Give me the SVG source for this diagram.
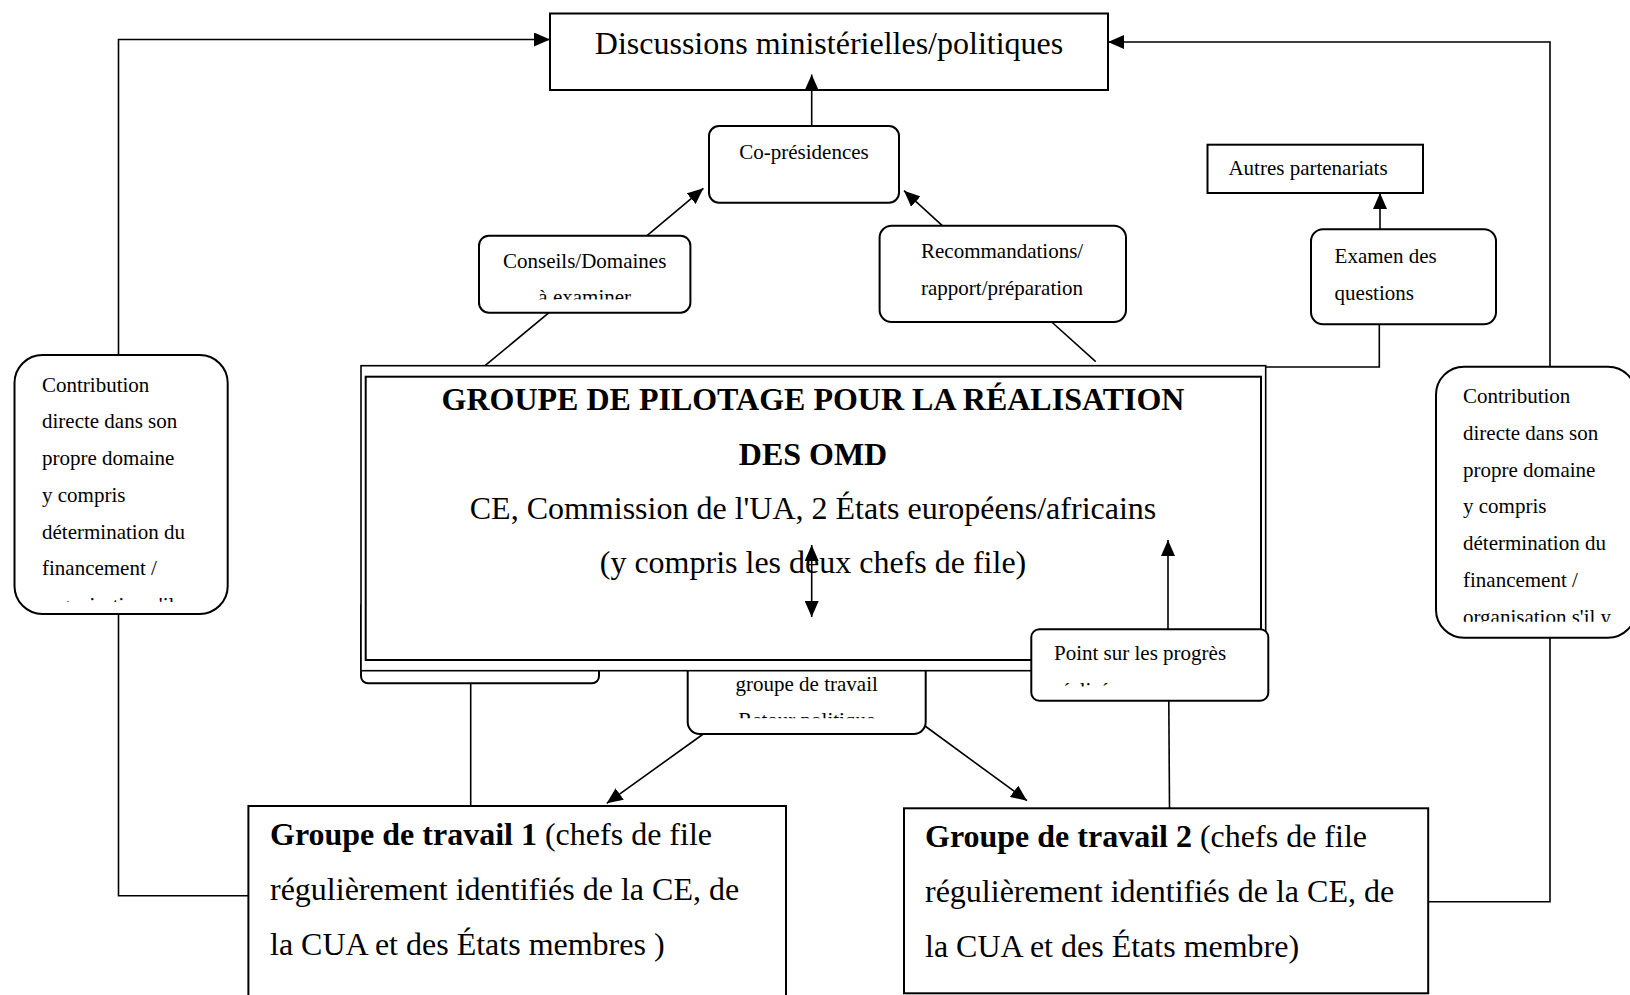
<svg xmlns="http://www.w3.org/2000/svg" width="1630" height="995" viewBox="0 0 1630 995">
<style>
.box{fill:#fff;stroke:#000;stroke-width:2}
.ln{fill:none;stroke:#000;stroke-width:1.6}
.t{font-family:"Liberation Serif","Times New Roman",serif;fill:#000}
.s{font-size:21px}
.l{font-size:32px}
.b{font-weight:bold}
.c{text-anchor:middle}
</style>
<defs>
<marker id="ah" markerUnits="userSpaceOnUse" markerWidth="16" markerHeight="14" refX="16" refY="7" orient="auto-start-reverse">
<path d="M0,0 L16,7 L0,14 z" fill="#000"/>
</marker>
<clipPath id="cpConseils"><rect x="479" y="236" width="211" height="63.5"/></clipPath>
<clipPath id="cpLC"><rect x="15" y="356" width="212" height="246"/></clipPath>
<clipPath id="cpRC"><rect x="1437" y="367" width="193" height="254.7"/></clipPath>
<clipPath id="cpPoint"><rect x="1032" y="630" width="236" height="56.5"/></clipPath>
<clipPath id="cpGdt"><rect x="688" y="671" width="237" height="47.3"/></clipPath>
</defs>
<rect width="1630" height="995" fill="#fff"/>

<g id="discussions">
<rect class="box" x="550" y="13.5" width="558" height="76.5"/>
<text class="t l c" x="829" y="53.5">Discussions ministérielles/politiques</text>
</g>

<g id="copresidences">
<rect class="box" x="709" y="126" width="190" height="76.7" rx="10"/>
<text class="t s c" x="804" y="159.3">Co-présidences</text>
</g>

<g id="conseils">
<rect class="box" x="479" y="235.7" width="211.4" height="77" rx="10"/>
<g clip-path="url(#cpConseils)">
<text class="t s c" x="584.7" y="268.3">Conseils/Domaines</text>
<text class="t s c" x="584.7" y="304">à examiner</text>
</g>
</g>

<g id="recommandations">
<rect class="box" x="879.6" y="225.7" width="246.4" height="96.3" rx="12"/>
<text class="t s" x="921" y="258.3">Recommandations/</text>
<text class="t s" x="921" y="295">rapport/préparation</text>
</g>

<g id="autres">
<rect class="box" x="1207.5" y="144.7" width="215.5" height="48.3"/>
<text class="t s" x="1228.4" y="175">Autres partenariats</text>
</g>

<g id="examen">
<rect class="box" x="1311" y="229.3" width="185" height="95" rx="12"/>
<text class="t s" x="1334.6" y="263.3">Examen des</text>
<text class="t s" x="1334.6" y="300">questions</text>
</g>

<g id="contribution-gauche">
<rect class="box" x="14.5" y="355" width="213.2" height="259" rx="28"/>
<g clip-path="url(#cpLC)">
<text class="t s" x="42" y="391.7">Contribution</text>
<text class="t s" x="42" y="428.4">directe dans son</text>
<text class="t s" x="42" y="465.1">propre domaine</text>
<text class="t s" x="42" y="501.8">y compris</text>
<text class="t s" x="42" y="538.5">détermination du</text>
<text class="t s" x="42" y="575.2">financement /</text>
<text class="t s" x="42" y="611.9">organisation s'il y</text>
</g>
</g>

<g id="contribution-droite">
<rect class="box" x="1436" y="366.7" width="200" height="271" rx="28"/>
<g clip-path="url(#cpRC)">
<text class="t s" x="1463" y="403.3">Contribution</text>
<text class="t s" x="1463" y="440">directe dans son</text>
<text class="t s" x="1463" y="476.7">propre domaine</text>
<text class="t s" x="1463" y="513.4">y compris</text>
<text class="t s" x="1463" y="550.1">détermination du</text>
<text class="t s" x="1463" y="586.8">financement /</text>
<text class="t s" x="1463" y="623.5">organisation s'il y</text>
</g>
</g>

<g id="boite-cachee">
<rect class="box" x="361" y="600" width="238" height="83.3" rx="7"/>
</g>

<g id="groupe-de-travail-retour">
<rect class="box" x="687.7" y="600" width="238" height="134" rx="12"/>
<g clip-path="url(#cpGdt)">
<text class="t s c" x="806.7" y="690.7">groupe de travail</text>
<text class="t s c" x="806.7" y="726.7">Retour politique</text>
</g>
</g>

<g id="groupe-pilotage">
<rect x="361" y="365.7" width="904.7" height="305" fill="#fff" stroke="#000" stroke-width="1.6"/>
<rect x="365.7" y="376.7" width="895.3" height="283.3" fill="none" stroke="#000" stroke-width="2"/>
<text class="t l b c" x="813" y="410">GROUPE DE PILOTAGE POUR LA RÉALISATION</text>
<text class="t l b c" x="813" y="465">DES OMD</text>
<text class="t l c" x="813" y="519.3">CE, Commission de l'UA, 2 États européens/africains</text>
<text class="t l c" x="813" y="573.3">(y compris les deux chefs de file)</text>
</g>

<g id="point-progres">
<rect class="box" x="1031.3" y="629.3" width="237" height="71.4" rx="8"/>
<g clip-path="url(#cpPoint)">
<text class="t s" x="1054" y="660">Point sur les progrès</text>
<text class="t s" x="1054" y="696.7">réalisés</text>
</g>
</g>

<g id="groupe-travail-1">
<rect class="box" x="248.4" y="806" width="537.6" height="200"/>
<text class="t l" x="270" y="845"><tspan class="b">Groupe de travail 1</tspan> (chefs de file</text>
<text class="t l" x="270" y="900">régulièrement identifiés de la CE, de</text>
<text class="t l" x="270" y="955">la CUA et des États membres )</text>
</g>

<g id="groupe-travail-2">
<rect class="box" x="904" y="808.3" width="524.2" height="185"/>
<text class="t l" x="925" y="846.5"><tspan class="b">Groupe de travail 2</tspan> (chefs de file</text>
<text class="t l" x="925" y="901.5">régulièrement identifiés de la CE, de</text>
<text class="t l" x="925" y="956.5">la CUA et des États membre)</text>
</g>

<g id="connecteurs">
<polyline class="ln" points="118.5,355 118.5,39.5 550,39.5" marker-end="url(#ah)"/>
<polyline class="ln" points="118.5,614 118.5,895.7 248.4,895.7"/>
<polyline class="ln" points="1550,366.7 1550,42 1108,42" marker-end="url(#ah)"/>
<polyline class="ln" points="1550,637.7 1550,901.7 1428.2,901.7"/>
<line class="ln" x1="811.7" y1="126" x2="811.7" y2="74.5" marker-end="url(#ah)"/>
<line class="ln" x1="647" y1="235.7" x2="703.4" y2="188.3" marker-end="url(#ah)"/>
<line class="ln" x1="485" y1="365.7" x2="549" y2="312.7"/>
<line class="ln" x1="942.3" y1="225.7" x2="904" y2="190.7" marker-end="url(#ah)"/>
<line class="ln" x1="1095.7" y1="361.7" x2="1051.7" y2="322"/>
<line class="ln" x1="1380" y1="229.3" x2="1380" y2="193" marker-end="url(#ah)"/>
<polyline class="ln" points="1265.7,367 1379.3,367 1379.3,324.3"/>
<line class="ln" x1="811.7" y1="545" x2="811.7" y2="617" marker-start="url(#ah)" marker-end="url(#ah)"/>
<line class="ln" x1="1168" y1="629.3" x2="1168" y2="540" marker-end="url(#ah)"/>
<line class="ln" x1="1169.5" y1="808.3" x2="1168.8" y2="700.7"/>
<line class="ln" x1="470.7" y1="683.3" x2="470.7" y2="806"/>
<line class="ln" x1="703.3" y1="734" x2="606.7" y2="803.3" marker-end="url(#ah)"/>
<line class="ln" x1="925" y1="726" x2="1027" y2="800.7" marker-end="url(#ah)"/>
</g>
</svg>
